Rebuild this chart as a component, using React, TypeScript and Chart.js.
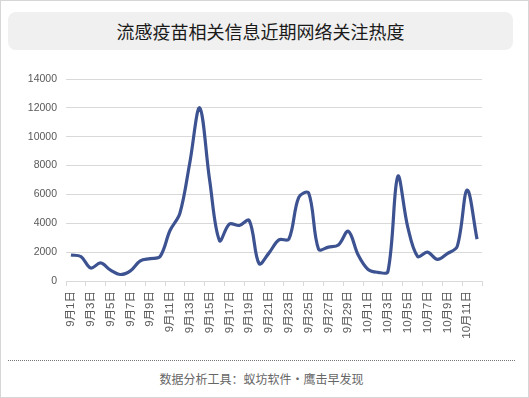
import React, { useEffect, useRef } from "react";
import { Chart, registerables } from "chart.js";

Chart.register(...registerables);

const TITLE = "流感疫苗相关信息近期网络关注热度";
const FOOTER = "数据分析工具：蚁坊软件·鹰击早发现";

const dates = [
  "9月1日", "9月2日", "9月3日", "9月4日", "9月5日", "9月6日", "9月7日", "9月8日", "9月9日", "9月10日",
  "9月11日", "9月12日", "9月13日", "9月14日", "9月15日", "9月16日", "9月17日", "9月18日", "9月19日", "9月20日",
  "9月21日", "9月22日", "9月23日", "9月24日", "9月25日", "9月26日", "9月27日", "9月28日", "9月29日", "9月30日",
  "10月1日", "10月2日", "10月3日", "10月4日", "10月5日", "10月6日", "10月7日", "10月8日", "10月9日", "10月10日",
  "10月11日", "10月12日",
];

const heat = [
  1800, 1700, 900, 1250, 750, 450, 700, 1400, 1550, 1700,
  3500, 4700, 8200, 12000, 7000, 2800, 3950, 3850, 4200, 1200,
  1950, 2850, 2900, 5800, 6100, 2200, 2350, 2500, 3450, 1800,
  800, 600, 650, 7250, 3750, 1700, 2000, 1500, 1900, 2400,
  6300, 2900,
];

const yMax = 14000;
const yStep = 2000;

const FONT = "'Liberation Sans', 'Noto Sans CJK SC', sans-serif";
const CJK = "'Noto Sans CJK SC', sans-serif";

export default function App() {
  const ref = useRef<HTMLCanvasElement | null>(null);

  useEffect(() => {
    if (!ref.current) return;
    const chart = new Chart(ref.current, {
      type: "line",
      data: {
        labels: dates,
        datasets: [
          {
            data: heat,
            borderColor: "#3d5391",
            borderWidth: 3.2,
            pointRadius: 0,
            tension: 0.35,
            fill: false,
          },
        ],
      },
      options: {
        animation: false,
        responsive: false,
        layout: { padding: { left: 9, right: 47, top: 19, bottom: 21 } },
        plugins: {
          legend: { display: false },
          tooltip: { enabled: false },
          title: { display: false },
        },
        scales: {
          x: {
            offset: true,
            afterFit: (s: any) => {
              s.height = 58;
            },
            border: { display: true, color: "#d9d9d9" },
            grid: {
              offset: true,
              drawOnChartArea: false,
              drawTicks: true,
              tickLength: 5,
              tickColor: (ctx: any) =>
                ctx.index === undefined || ctx.index % 2 === 0 ? "#d9d9d9" : "rgba(0,0,0,0)",
            },
            ticks: {
              autoSkip: false,
              minRotation: 90,
              maxRotation: 90,
              padding: 5,
              color: "#595959",
              font: { family: FONT, size: 11.5 },
              callback: (_v: any, i: number) => (i % 2 === 0 ? dates[i] : ""),
            },
          },
          y: {
            min: 0,
            max: yMax,
            afterFit: (s: any) => {
              s.width = 57;
            },
            border: { display: false },
            grid: { color: "#d9d9d9", drawTicks: false, lineWidth: 1 },
            ticks: {
              stepSize: yStep,
              padding: 9,
              color: "#595959",
              font: { family: FONT, size: 10.5 },
              callback: (v: any) => String(v),
            },
          },
        },
      },
    });
    return () => chart.destroy();
  }, []);

  return (
    <div
      style={{
        position: "fixed",
        left: 0,
        top: 0,
        width: 529,
        height: 398,
        background: "#ffffff",
        overflow: "hidden",
      }}
    >
      <div
        style={{
          position: "absolute",
          left: 8,
          top: 12,
          width: 505,
          height: 38,
          borderRadius: 8,
          background: "#f0f0f0",
          textAlign: "center",
          lineHeight: "38px",
          fontFamily: CJK,
          fontSize: 18,
          color: "#1a1a1a",
        }}
      >
        {TITLE}
      </div>
      <canvas
        ref={ref}
        width={529}
        height={300}
        style={{ position: "absolute", left: 0, top: 60, width: 529, height: 300 }}
      />
      <div
        style={{
          position: "absolute",
          left: 8,
          top: 360,
          width: 507,
          height: 0,
          borderTop: "1px dotted #777777",
        }}
      />
      <div
        style={{
          position: "absolute",
          left: 8,
          top: 370,
          width: 507,
          height: 17,
          textAlign: "center",
          lineHeight: "17px",
          fontFamily: CJK,
          fontSize: 12,
          color: "#666666",
        }}
      >
        {FOOTER}
      </div>
      <div
        style={{
          position: "absolute",
          left: 0,
          top: 0,
          width: 529,
          height: 398,
          boxSizing: "border-box",
          border: "1px solid #d6d6d6",
          pointerEvents: "none",
        }}
      />
    </div>
  );
}
